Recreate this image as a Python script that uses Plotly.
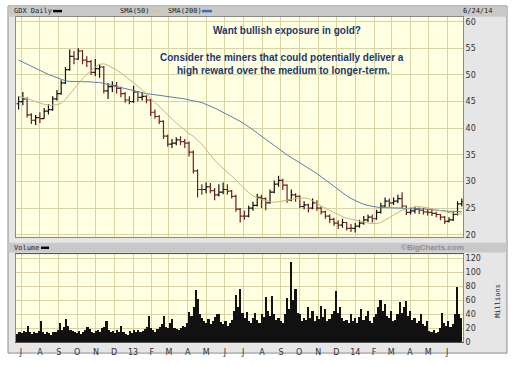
import plotly.graph_objects as go
import pandas as pd

W, H = 514, 365

# ---------------- data ----------------
week_dates = pd.date_range("2012-06-27", periods=105, freq="7D")

close = [45.0, 45.5, 42.5, 41.5, 42.0, 41.8, 43.2, 43.5, 45.5, 46.5,
         48.5, 51.0, 53.5, 53.0, 54.5, 52.8, 52.5, 50.5, 51.2, 51.5,
         47.0, 47.8, 48.0, 47.5, 46.5, 45.3, 45.0, 46.8, 45.8, 46.0,
         45.3, 43.0, 42.2, 41.3, 38.5, 37.0, 37.2, 37.8, 37.5, 37.2,
         35.5, 32.0, 28.5, 28.5, 29.0, 28.3, 27.5, 28.0, 28.5, 28.2,
         27.2, 24.8, 23.5, 23.5, 25.0, 25.5, 27.0, 26.8, 26.0, 28.0,
         29.5, 30.2, 29.3, 26.5, 27.5, 27.2, 25.3, 25.6, 25.0, 26.0,
         25.0, 24.3, 23.5, 22.9, 22.2, 21.8, 22.3, 21.2, 21.2, 21.6,
         22.2, 22.8, 23.3, 23.0, 24.2, 25.4, 26.3, 26.0, 26.3, 26.8,
         25.4, 24.2, 24.5, 24.8, 24.6, 24.3, 24.2, 24.0, 23.8, 23.3,
         22.5, 22.8, 23.8, 25.8, 26.2]

high = [46.0, 46.8, 45.8, 42.8, 42.5, 43.0, 43.8, 44.5, 46.0, 47.2,
        49.0, 51.5, 54.8, 54.5, 55.0, 54.7, 53.5, 52.8, 53.0, 52.0,
        51.7, 48.5, 48.8, 48.7, 47.8, 46.8, 46.0, 48.0, 47.0, 46.8,
        46.2, 45.5, 43.5, 42.5, 41.5, 38.8, 38.0, 38.3, 38.5, 38.0,
        37.5, 35.8, 32.3, 29.5, 29.8, 29.7, 28.8, 29.5, 29.8, 29.5,
        28.4, 27.5, 25.0, 24.5, 25.5, 26.2, 27.7, 27.5, 27.0, 28.5,
        30.2, 31.1, 30.5, 29.5, 28.5, 27.8, 27.4, 26.3, 25.8, 26.8,
        26.5, 25.3, 24.5, 23.8, 23.2, 22.7, 23.0, 22.4, 22.0, 22.2,
        22.8, 23.5, 23.8, 23.8, 24.7, 26.0, 27.0, 26.8, 27.0, 27.5,
        28.0, 25.5, 25.1, 25.3, 25.1, 25.0, 24.8, 24.8, 24.3, 23.9,
        23.5, 23.3, 24.3, 26.3, 26.8]

low = [43.5, 44.3, 42.0, 40.8, 40.6, 41.0, 41.8, 42.6, 43.3, 45.2,
       46.3, 48.3, 50.8, 52.0, 52.8, 52.0, 51.5, 50.0, 49.8, 49.5,
       46.5, 45.5, 46.8, 46.5, 45.8, 44.8, 44.5, 44.8, 45.0, 45.2,
       44.7, 42.3, 41.8, 40.8, 38.0, 36.5, 36.3, 36.8, 36.8, 36.3,
       34.7, 31.5, 27.0, 27.5, 27.8, 27.8, 26.5, 27.2, 27.6, 27.5,
       26.8, 24.3, 22.3, 22.8, 23.3, 24.5, 25.3, 25.0, 24.6, 25.8,
       27.8, 29.0, 28.4, 26.0, 26.3, 26.2, 25.0, 24.8, 24.2, 24.8,
       24.5, 23.8, 23.0, 22.2, 21.7, 21.1, 21.3, 20.8, 20.5, 20.4,
       21.3, 21.9, 22.4, 22.3, 22.8, 24.0, 25.2, 25.2, 25.6, 25.9,
       25.0, 23.7, 23.8, 24.0, 23.9, 23.8, 23.6, 23.5, 23.3, 22.7,
       22.0, 22.3, 22.6, 23.6, 25.3]

first_open = 44.6
open_ = [first_open] + close[:-1]

sma50 = [46.0, 45.8, 45.6, 45.3, 45.0, 44.7, 44.5, 44.3, 44.3, 44.4,
         44.7, 45.4, 46.4, 47.4, 48.4, 49.3, 50.1, 50.8, 51.5, 52.0,
         52.1, 51.8, 51.4, 50.9, 50.4, 49.8, 49.2, 48.6, 47.9, 47.2,
         46.5, 45.6, 44.8, 44.0, 43.2, 42.4, 41.7, 41.0, 40.3, 39.6,
         39.0, 38.5, 37.8, 37.0, 36.0, 34.9, 34.0, 33.2, 32.5, 31.8,
         31.1, 30.3, 29.4, 28.6, 27.9, 27.3, 26.9, 26.6, 26.4, 26.2,
         26.1, 26.2, 26.3, 26.5, 26.6, 26.8, 26.9, 26.9, 26.8, 26.4,
         25.9, 25.4, 25.0, 24.6, 24.1, 23.7, 23.4, 23.1, 22.9, 22.7,
         22.5, 22.3, 22.2, 22.1, 22.1, 22.3, 22.7, 23.2, 23.7, 24.2,
         24.6, 24.9, 25.1, 25.2, 25.3, 25.2, 25.1, 24.9, 24.7, 24.5,
         24.3, 24.1, 24.0, 23.9, 23.9]

sma200 = [52.8, 52.4, 52.0, 51.6, 51.3, 50.9, 50.5, 50.1, 49.8, 49.5,
          49.2, 48.9, 48.8, 48.8, 48.7, 48.7, 48.7, 48.7, 48.6, 48.6,
          48.4, 48.2, 48.0, 47.8, 47.6, 47.4, 47.2, 47.0, 46.9, 46.7,
          46.5, 46.4, 46.3, 46.2, 46.1, 46.0, 45.9, 45.8, 45.7, 45.5,
          45.3, 45.2, 45.0, 44.8, 44.5, 44.2, 43.8, 43.4, 43.0, 42.6,
          42.2, 41.8, 41.3, 40.8, 40.3, 39.7, 39.1, 38.5, 37.9, 37.3,
          36.7, 36.1, 35.6, 35.0, 34.5, 34.0, 33.6, 33.1, 32.6, 32.0,
          31.5, 30.9, 30.3, 29.6, 29.0, 28.4, 27.8, 27.3, 26.8, 26.4,
          26.0, 25.7, 25.5, 25.3, 25.2, 25.1, 25.1, 25.0, 25.0, 25.0,
          25.0, 24.9, 24.9, 24.9, 24.8, 24.8, 24.8, 24.7, 24.6, 24.5,
          24.5, 24.4, 24.4, 24.3, 24.3]

volume = [12, 14, 13, 16, 15, 24, 14, 12, 15, 13,
          16, 31, 15, 12, 14, 13, 11, 15, 14, 18,
          27, 17, 22, 33, 24, 18, 16, 14, 13, 16,
          12, 14, 18, 22, 19, 15, 13, 16, 18, 14,
          20, 22, 30, 18, 14, 16, 13, 18, 15, 24,
          14, 12, 11, 16, 13, 17, 15, 18, 14, 16,
          19, 22, 37, 20, 17, 15, 19, 22, 26, 37,
          22, 20, 27, 34, 21, 19, 17, 20, 24, 22,
          28, 44, 38, 50, 75, 62, 41, 35, 30, 28,
          33, 26, 30, 36, 40, 40, 29, 26, 30, 24,
          27, 32, 45, 68, 50, 76, 42, 35, 43, 30,
          28, 35, 42, 32, 28, 40, 36, 65, 45, 38,
          66, 40, 32, 35, 30, 28, 40, 64, 48, 115,
          60, 76, 42, 40, 30, 35, 32, 50, 35, 45,
          30, 38, 34, 52, 36, 48, 30, 33, 40, 45,
          74, 42, 50, 35, 30, 32, 28, 40, 30, 35,
          28, 36, 48, 32, 38, 45, 30, 28, 36, 40,
          50, 61, 45, 55, 38, 35, 45, 30, 32, 40,
          58, 42, 50, 59, 38, 45, 32, 35, 28, 30,
          40, 26, 24, 30, 16, 14, 18, 13, 15, 20,
          42, 28, 24, 30, 22, 26, 41, 80, 40, 35]
vol_dates = pd.date_range("2012-06-25", "2014-06-24", periods=len(volume))

month_ticks = pd.date_range("2012-07-01", "2014-06-01", freq="MS")
month_labels = ["J", "A", "S", "O", "N", "D", "13", "F", "M", "A", "M", "J",
                "J", "A", "S", "O", "N", "D", "14", "F", "M", "A", "M", "J"]
price_ticks = [20, 25, 30, 35, 40, 45, 50, 55, 60]
volume_ticks = [0, 20, 40, 60, 80, 100, 120]

# ---------------- layout helpers ----------------
def px(x):
    return x / W

def py(y):
    return 1 - y / H

PLOT_L, PLOT_R = 16, 463
P_TOP, P_BOT = 17, 240
V_TOP, V_BOT = 258, 347

grid = "#d8d3a2"
axis_line = "#8a8a8a"
tick_font = dict(family="DejaVu Sans", size=8, color="#333333")
mono = dict(family="DejaVu Sans Mono", size=7, color="#222222")

fig = go.Figure()

fig.add_trace(go.Scatter(x=week_dates, y=sma200, mode="lines",
                         line=dict(color="#5b7fa8", width=1), hoverinfo="skip"))
fig.add_trace(go.Scatter(x=week_dates, y=sma50, mode="lines",
                         line=dict(color="#c6b67e", width=1), hoverinfo="skip"))
fig.add_trace(go.Ohlc(x=week_dates, open=open_, high=high, low=low, close=close,
                      increasing=dict(line=dict(color="#111111", width=1.2)),
                      decreasing=dict(line=dict(color="#6e2020", width=1.2)),
                      tickwidth=0.5, hoverinfo="skip"))
fig.add_trace(go.Bar(x=vol_dates, y=volume, xaxis="x2", yaxis="y2",
                     marker=dict(color="#111111", line=dict(width=0)),
                     hoverinfo="skip"))

xrange = ["2012-06-22 18:00", "2014-06-27"]

shapes = [
    dict(type="rect", xref="paper", yref="paper", x0=px(8), x1=px(507), y0=py(358), y1=py(6),
         fillcolor="#e6e6e6", line=dict(color="#8c8c8c", width=1), layer="below"),
    dict(type="rect", xref="paper", yref="paper", x0=px(8.5), x1=px(506.5), y0=py(17), y1=py(6.5),
         fillcolor="#c9c9c9", line=dict(width=0), layer="below"),
    dict(type="rect", xref="paper", yref="paper", x0=px(8.5), x1=px(506.5), y0=py(256), y1=py(246),
         fillcolor="#c9c9c9", line=dict(width=0), layer="below"),
    dict(type="rect", xref="paper", yref="paper", x0=px(PLOT_L), x1=px(PLOT_R), y0=py(P_BOT), y1=py(P_TOP),
         fillcolor="#ffffe1", line=dict(width=0), layer="below"),
    dict(type="rect", xref="paper", yref="paper", x0=px(PLOT_L), x1=px(PLOT_R), y0=py(V_BOT), y1=py(V_TOP),
         fillcolor="#ffffe1", line=dict(width=0), layer="below"),
    dict(type="rect", xref="paper", yref="paper", x0=px(53), x1=px(62), y0=py(12.5), y1=py(10),
         fillcolor="#000000", line=dict(width=0)),
    dict(type="rect", xref="paper", yref="paper", x0=px(152), x1=px(161), y0=py(12.5), y1=py(10),
         fillcolor="#d6c28a", line=dict(width=0)),
    dict(type="rect", xref="paper", yref="paper", x0=px(202), x1=px(212), y0=py(12.5), y1=py(10),
         fillcolor="#3d6db0", line=dict(width=0)),
    dict(type="rect", xref="paper", yref="paper", x0=px(41), x1=px(49), y0=py(252.5), y1=py(250),
         fillcolor="#000000", line=dict(width=0)),
]

title_font = dict(family="Liberation Sans, Arial", size=10, color="#22386a")
annotations = [
    dict(text="GDX Daily", x=px(12), y=py(11.5), xanchor="left", yanchor="middle", font=mono),
    dict(text="SMA(50)", x=px(118), y=py(11.5), xanchor="left", yanchor="middle", font=mono),
    dict(text="SMA(200)", x=px(166), y=py(11.5), xanchor="left", yanchor="middle", font=mono),
    dict(text="6/24/14", x=px(461), y=py(11.5), xanchor="left", yanchor="middle", font=mono),
    dict(text="Volume", x=px(12), y=py(251), xanchor="left", yanchor="middle", font=mono),
    dict(text="<b>©BigCharts.com</b>", x=px(432), y=py(251), xanchor="center", yanchor="middle",
         font=dict(family="Liberation Sans, Arial", size=8, color="#8f8f8f")),
    dict(text="Millions", x=px(498), y=py(305), xanchor="center", yanchor="middle",
         textangle=-90, font=mono),
    dict(text="<b>Want bullish exposure in gold?</b>", x=px(287), y=py(31),
         xanchor="center", yanchor="middle", font=title_font),
    dict(text="<b>Consider the miners that could potentially deliver a</b>", x=px(282), y=py(58),
         xanchor="center", yanchor="middle", font=title_font),
    dict(text="<b>high reward over the medium to longer-term.</b>", x=px(283), y=py(71.5),
         xanchor="center", yanchor="middle", font=title_font),
]
for a in annotations:
    a.update(xref="paper", yref="paper", showarrow=False)

fig.update_layout(
    width=W, height=H,
    margin=dict(l=0, r=0, t=0, b=0),
    paper_bgcolor="#ffffff",
    plot_bgcolor="rgba(0,0,0,0)",
    showlegend=False,
    bargap=0,
    shapes=shapes,
    annotations=annotations,
    xaxis=dict(domain=[px(PLOT_L), px(PLOT_R)], anchor="y", type="date", range=xrange,
               tickvals=list(month_ticks), ticktext=month_labels, showticklabels=False,
               showgrid=True, gridcolor=grid, gridwidth=1, ticks="",
               showline=True, mirror=True, linecolor=axis_line, linewidth=1,
               rangeslider=dict(visible=False), fixedrange=True),
    xaxis2=dict(domain=[px(PLOT_L), px(PLOT_R)], anchor="y2", type="date", range=xrange,
                matches="x", tickvals=list(month_ticks), ticktext=month_labels,
                showticklabels=True, tickfont=tick_font, ticklabelstandoff=2,
                showgrid=True, gridcolor=grid, gridwidth=1, ticks="",
                showline=True, mirror=True, linecolor="#555555", linewidth=1),
    yaxis=dict(domain=[py(P_BOT), py(P_TOP)], anchor="x", side="right",
               range=[19.63, 60.93], tickvals=price_ticks, tickfont=tick_font,
               showgrid=True, gridcolor=grid, zeroline=False, ticks="",
               showline=True, mirror=True, linecolor=axis_line, linewidth=1),
    yaxis2=dict(domain=[py(V_BOT), py(V_TOP)], anchor="x2", side="right",
                range=[0, 126], tickvals=volume_ticks, tickfont=tick_font,
                showgrid=True, gridcolor=grid, zeroline=False, ticks="",
                showline=True, mirror=True, linecolor=axis_line, linewidth=1),
)

fig.write_html("out.html",
               config={"displayModeBar": False, "staticPlot": True},
               post_script="document.body.style.margin='0px';document.body.style.padding='0px';")
